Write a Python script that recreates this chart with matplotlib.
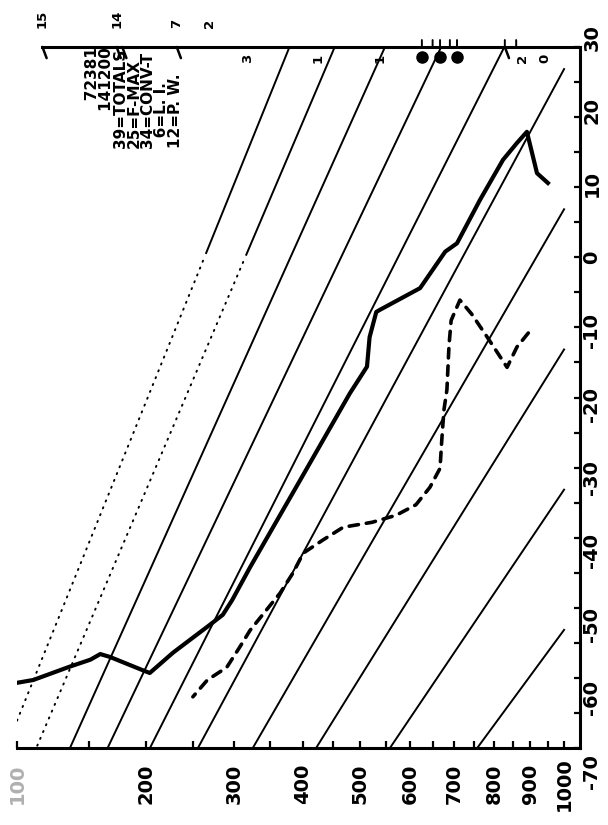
import numpy as np
import matplotlib
matplotlib.use("Agg")
import matplotlib.pyplot as plt
from matplotlib.transforms import ScaledTranslation, blended_transform_factory

KAPPA = 0.286
W, H = 608, 825

# temperature profile (hPa, deg C)
temp_p = [951, 919, 890, 862, 824, 764, 707, 679, 622, 538, 531, 518, 513,
          481, 396, 322, 298, 286, 267, 228, 204, 197, 167, 159, 151, 135, 110, 100]
temp_t = [10.6, 12.0, 17.9, 16.3, 13.9, 8.2, 2.0, 0.8, -4.4, -7.5, -7.8, -11.4, -15.6,
          -19.4, -31.8, -44.2, -48.9, -51.0, -52.7, -56.4, -59.3, -58.9, -57.0, -56.6,
          -57.4, -58.4, -60.3, -60.7]

# dew point profile
dew_p = [894, 862, 835, 808, 779, 743, 714, 693, 688, 683, 676, 671, 667, 644,
         613, 571, 523, 469, 434, 401, 385, 365, 322, 308, 291, 267, 250]
dew_t = [-10.8, -12.8, -15.7, -13.5, -11.1, -8.1, -6.1, -9.0, -12.5, -18.9, -21.8,
         -26.1, -30.1, -32.8, -35.3, -36.8, -37.8, -38.5, -40.3, -42.2, -45.0, -47.9,
         -53.2, -55.6, -58.5, -60.3, -62.7]

# dry adiabats (K)
thetas = [220, 240, 260, 280, 300, 320, 340, 360, 380, 400]
dotted_thetas = [380, 400]

p_labels = ["100", "200", "300", "400", "500", "600", "700", "800", "900", "1000"]
p_major = [100, 200, 300, 400, 500, 600, 700, 800, 900, 1000]
p_minor = [150, 250, 350, 450, 550, 650, 750, 850, 950]
t_major = [-70, -60, -50, -40, -30, -20, -10, 0, 10, 20, 30]
t_labels = ["-70", "-60", "-50", "-40", "-30", "-20", "-10", "0", "10", "20", "30"]
t_minor = [-65, -55, -45, -35, -25, -15, -5, 5, 15, 25]

# numbers along the top line
above_p = [116, 173, 232, 270]
above_lab = ["15", "14", "7", "2"]
below_p = [319, 425, 538, 879, 943]
below_lab = ["3", "1", "1", "2", "0"]
calm_p = [626, 667, 707]
barb_p = [116, 173, 178, 232, 829]
top_tick_p = [626, 650, 667, 690, 707, 829, 860]

info_top = ["72381", "141200"]
info_stats = ["39=TOTALS", "25=F-MAX", "34=CONV-T", "\u20076=L. I.", "12=P. W."]


def px(x, y):
    return x / W, 1 - y / H


fig = plt.figure(figsize=(W / 100, H / 100), dpi=100)
ax = fig.add_axes([17 / W, (H - 748) / H, (580 - 17) / W, (748 - 47) / H])
ax.set_xscale("function", functions=(lambda p: np.power(p, KAPPA),
                                     lambda x: np.power(x, 1 / KAPPA)))
ax.set_xlim(100, 1050)
ax.set_ylim(-70, 30)

pp = np.linspace(100, 1000, 300)
for theta in thetas:
    tt = theta * (pp / 1000) ** KAPPA - 273.15
    if theta in dotted_thetas:
        warm = tt >= 0
        ax.plot(pp[warm], tt[warm], color="black", lw=1.4)
        ax.plot(pp[~warm], tt[~warm], color="black", lw=1.4,
                linestyle=(0, (0.6, 3.2)), dash_capstyle="round")
    else:
        ax.plot(pp, tt, color="black", lw=1.4)

ax.plot(temp_p, temp_t, color="black", lw=3.0, solid_joinstyle="round")
ax.plot(dew_p, dew_t, color="black", lw=2.6, linestyle=(0, (2.6, 2.2)),
        dash_capstyle="round")

# frame
for side in ["top", "right", "bottom"]:
    ax.spines[side].set_linewidth(2.2)
ax.spines["left"].set_visible(False)
ax.spines["top"].set_bounds(above_p[0], 1050)

ax.set_xticks(p_major)
ax.set_xticklabels(p_labels)
ax.set_xticks(p_minor, minor=True)
ax.yaxis.tick_right()
ax.set_yticks(t_major)
ax.set_yticklabels([])
ax.set_yticks(t_minor, minor=True)
ax.tick_params(axis="x", which="both", direction="in", length=5, width=1.6,
               top=False, pad=26)
ax.tick_params(axis="y", which="both", direction="in", length=4.5, width=1.6,
               left=False, right=True)
for lab in ax.get_xticklabels():
    lab.set_rotation(90)
    lab.set_va("center")
    lab.set_ha("center")
    lab.set_fontsize(14)
    lab.set_fontweight("bold")
ax.get_xticklabels()[0].set_color("#b0b0b0")

# the printed temperature scale runs a little wider than the tick marks
label_stretch = 1.047
right_side = blended_transform_factory(ax.transAxes, ax.transData)
for t, lab in zip(t_major, t_labels):
    ax.text(1.0, t * label_stretch, lab, transform=right_side + ScaledTranslation(
        12 / 100, 0, fig.dpi_scale_trans), rotation=90, ha="center", va="center",
        fontsize=14, fontweight="bold", clip_on=False)

# wind/level marks along the top line
for p, lab in zip(above_p, above_lab):
    ax.annotate(lab, xy=(p, 30), xytext=(0, 14), textcoords="offset points",
                rotation=90, ha="center", va="bottom", fontsize=9.5,
                fontweight="bold", annotation_clip=False)
for p, lab in zip(below_p, below_lab):
    ax.annotate(lab, xy=(p, 30), xytext=(0, -5), textcoords="offset points",
                rotation=90, ha="center", va="top", fontsize=9.5,
                fontweight="bold", annotation_clip=False)
for p in barb_p:
    ax.annotate("", xy=(p, 30), xytext=(3, -8), textcoords="offset points",
                arrowprops=dict(arrowstyle="-", lw=1.8, shrinkA=0, shrinkB=0),
                annotation_clip=False)
for p in top_tick_p:
    ax.annotate("", xy=(p, 30), xytext=(0, 5), textcoords="offset points",
                arrowprops=dict(arrowstyle="-", lw=1.4, shrinkA=0, shrinkB=0),
                annotation_clip=False)
ax.plot(calm_p, [30] * len(calm_p), "o", color="black", ms=8,
        transform=ax.transData + ScaledTranslation(0, -7 / 72, fig.dpi_scale_trans),
        clip_on=False)

# station block: first two lines end-aligned with the longest stats line
pad_top = ["\u2007\u2007\u2007\u2007 " + info_top[0], "\u2007\u2007\u2007 " + info_top[1]]
fig.text(*px(134, 148), "\n".join(pad_top + info_stats), rotation=90,
         ha="center", va="bottom", multialignment="left", linespacing=0.9,
         fontsize=11, fontweight="bold")

fig.savefig("out.png", dpi=100, facecolor="white")
